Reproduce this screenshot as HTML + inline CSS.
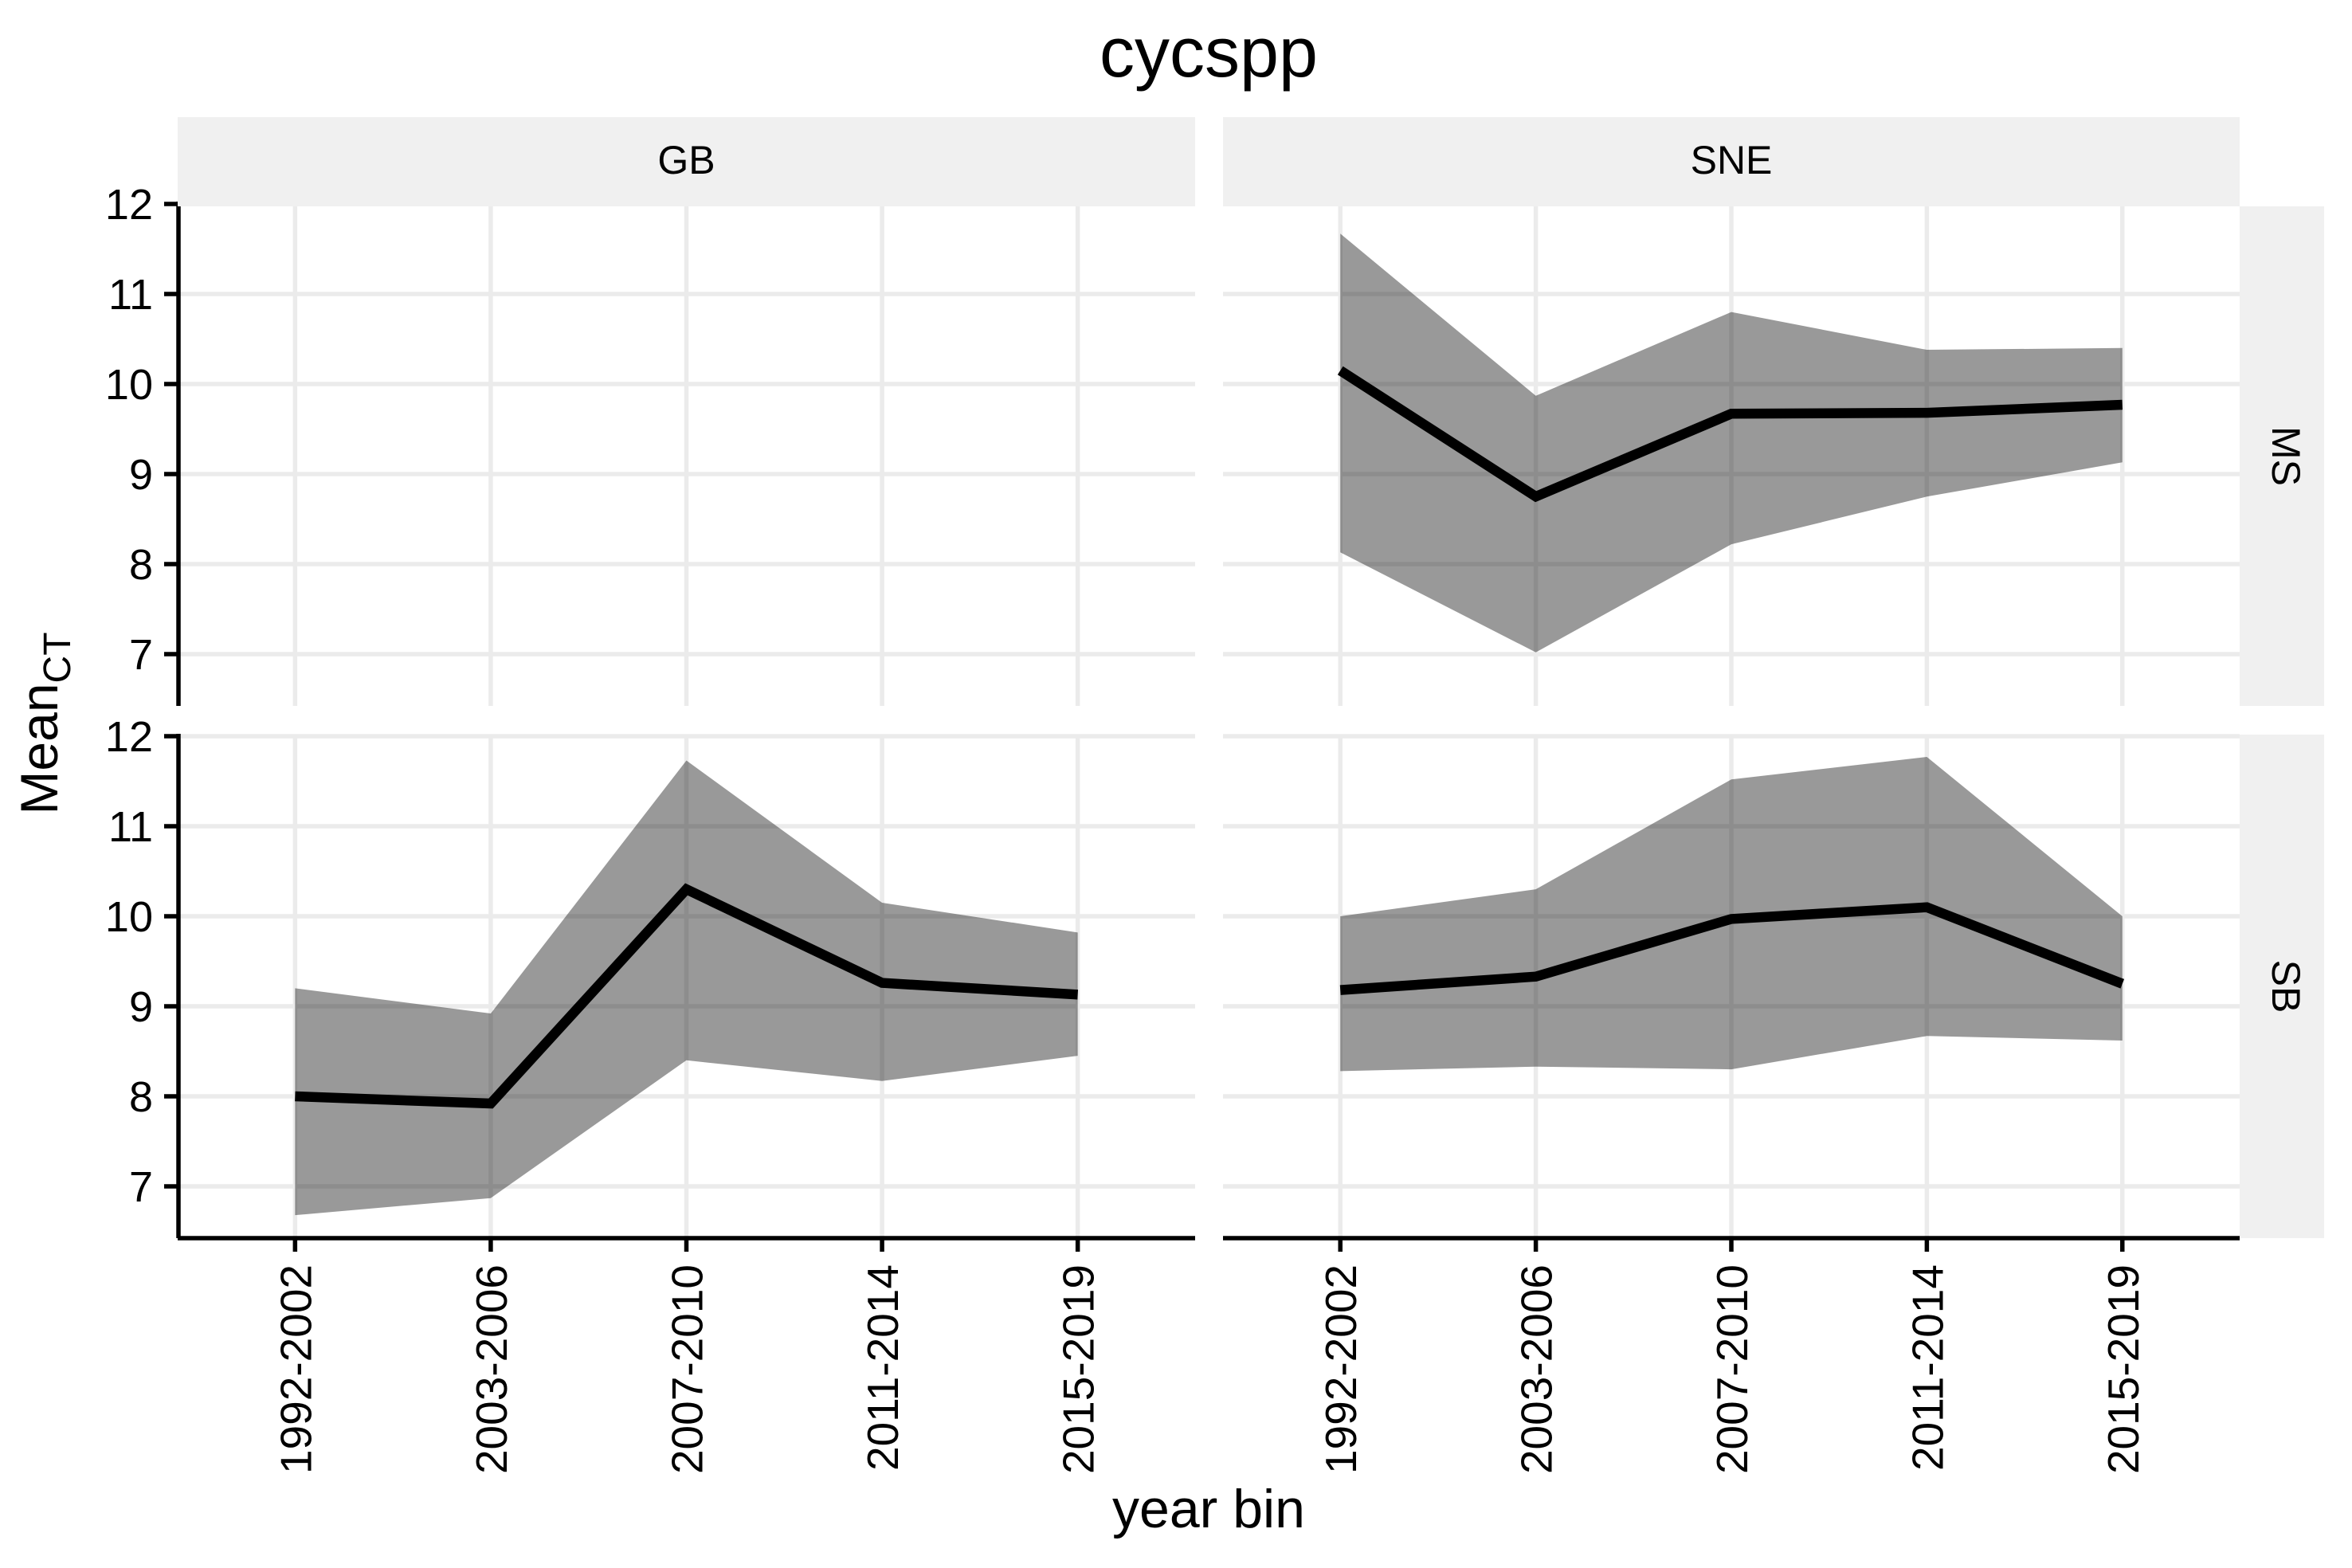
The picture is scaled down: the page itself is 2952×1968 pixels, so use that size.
<!DOCTYPE html>
<html><head><meta charset="utf-8"><style>
html,body{margin:0;padding:0;background:#fff;}
svg{display:block;font-family:"Liberation Sans",Arial,sans-serif;}
</style></head><body>
<svg id="chart" width="2952" height="1968" viewBox="0 0 2952 1968" xmlns="http://www.w3.org/2000/svg">
<rect width="2952" height="1968" fill="#fff"/>
<text x="1517" y="96" font-size="88" text-anchor="middle">cycspp</text>
<g id="panels"></g>
<text x="1517" y="1917" font-size="68" text-anchor="middle">year bin</text>
<text transform="translate(72,908) rotate(-90)" font-size="66" text-anchor="middle">Mean<tspan font-size="48" dy="16">CT</tspan></text>
</svg>
<script>
const categories = ["1992-2002","2003-2006","2007-2010","2011-2014","2015-2019"];
const yTicks = [7,8,9,10,11,12];
const colFacets = ["GB","SNE"];
const rowFacets = ["MS","SB"];
// SNE / MS
const sneMsMean = [10.15, 8.75, 9.67, 9.68, 9.77];
const sneMsUpper = [11.67, 9.87, 10.8, 10.38, 10.4];
const sneMsLower = [8.13, 7.02, 8.22, 8.75, 9.13];
// GB / SB
const gbSbMean = [8.0, 7.92, 10.3, 9.26, 9.13];
const gbSbUpper = [9.2, 8.92, 11.73, 10.15, 9.82];
const gbSbLower = [6.68, 6.87, 8.4, 8.17, 8.45];
// SNE / SB
const sneSbMean = [9.18, 9.33, 9.97, 10.1, 9.25];
const sneSbUpper = [10.0, 10.3, 11.52, 11.77, 10.0];
const sneSbLower = [8.28, 8.33, 8.3, 8.67, 8.62];

const NS="http://www.w3.org/2000/svg";
const root=document.getElementById('panels');
function mk(tag,attrs,parent){const e=document.createElementNS(NS,tag);for(const k in attrs)e.setAttribute(k,attrs[k]);(parent||root).appendChild(e);return e;}

const colX=[[223,1500],[1535,2811]];
const rowY=[[259,886],[922,1554]];
const rowY12=[256,924];
const pxPerUnit=113;
function xScale(col,i){const [a,b]=colX[col];const step=(b-a)/5.2;return a+(0.6+i)*step;}
function yScale(row,v){return rowY12[row]+(12-v)*pxPerUnit;}

const series={
 "1-0":[sneMsMean,sneMsUpper,sneMsLower],
 "0-1":[gbSbMean,gbSbUpper,gbSbLower],
 "1-1":[sneSbMean,sneSbUpper,sneSbLower]
};

for(let r=0;r<2;r++)for(let c=0;c<2;c++){
 const g=mk('g',{});
 
 
 yTicks.forEach(v=>{const y=yScale(r,v);if(y>rowY[r][1])return;
  const l=mk('line',{x1:colX[c][0],x2:colX[c][1],y1:y,y2:y,stroke:'#ebebeb','stroke-width':5.5},g);
  
  });
 categories.forEach((cat,i)=>{const x=xScale(c,i);
  const l=mk('line',{x1:x,x2:x,y1:rowY[r][0],y2:rowY[r][1],stroke:'#ebebeb','stroke-width':5.5},g);
  
  });
 const s=series[c+'-'+r];
 if(s){
  const [mean,up,lo]=s;
  let pts=up.map((v,i)=>xScale(c,i)+','+yScale(r,v));
  pts=pts.concat(lo.map((v,i)=>xScale(c,i)+','+yScale(r,v)).reverse());
  const rib=mk('polygon',{points:pts.join(' '),fill:'#000','fill-opacity':0.4},g);
  
  
  const ln=mk('polyline',{points:mean.map((v,i)=>xScale(c,i)+','+yScale(r,v)).join(' '),fill:'none',stroke:'#000','stroke-width':12.5,'stroke-linejoin':'miter'},g);
  
  
 }
 if(c===0){
  const ax=mk('line',{x1:224,x2:224,y1:rowY12[r]-3,y2:rowY[r][1],stroke:'#000','stroke-width':5.5},g);
  
  
  yTicks.forEach(v=>{const y=yScale(r,v);if(y>rowY[r][1])return;
   const tk=mk('line',{x1:206,x2:224,y1:y,y2:y,stroke:'#000','stroke-width':5.5},g);
   
   
   const t=mk('text',{x:192,y:y+19,'font-size':54,'text-anchor':'end'},g);
   t.textContent=v;
   
   });
 }
 if(r===1){
  const ax=mk('line',{x1:colX[c][0],x2:colX[c][1],y1:1554,y2:1554,stroke:'#000','stroke-width':5.5},g);
  
  
  categories.forEach((cat,i)=>{const x=xScale(c,i);
   const tk=mk('line',{x1:x,x2:x,y1:1554,y2:1571,stroke:'#000','stroke-width':5.5},g);
   
   
   const t=mk('text',{transform:`translate(${x+20},1587) rotate(-90)`,'font-size':55,'text-anchor':'end'},g);
   t.textContent=cat;
   
   });
 }
}

colFacets.forEach((f,c)=>{
 const r=mk('rect',{x:colX[c][0],y:147,width:colX[c][1]-colX[c][0],height:112,fill:'#f0f0f0'});
 
 
 const t=mk('text',{x:(colX[c][0]+colX[c][1])/2,y:218,'font-size':50,'text-anchor':'middle'});
 t.textContent=f;
 
 
});
rowFacets.forEach((f,r)=>{
 const rr=mk('rect',{x:2811,y:rowY[r][0],width:106,height:rowY[r][1]-rowY[r][0],fill:'#f0f0f0'});
 
 
 const cy=(rowY[r][0]+rowY[r][1])/2;
 const t=mk('text',{transform:`translate(2852,${cy}) rotate(90)`,'font-size':50,'text-anchor':'middle'});
 t.textContent=f;
 
 
});
</script>
</body></html>
